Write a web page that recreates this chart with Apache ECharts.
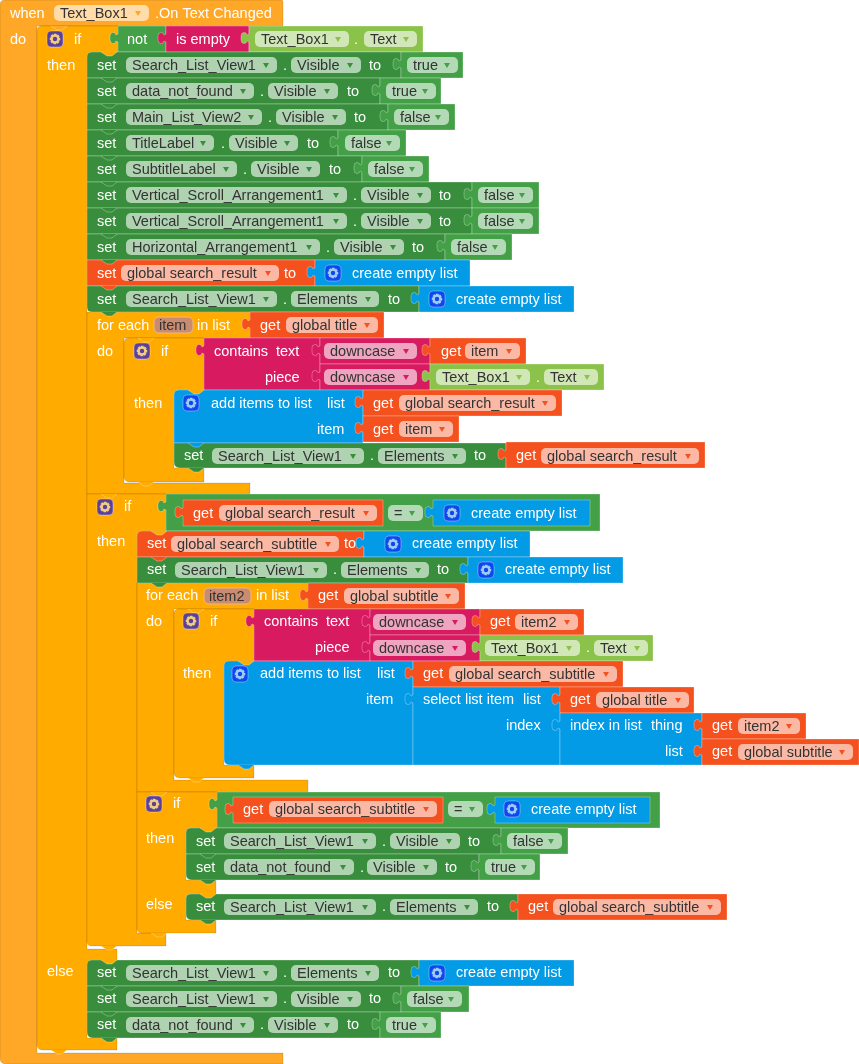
<!DOCTYPE html>
<html><head><meta charset="utf-8">
<style>html,body{margin:0;padding:0;background:#fff}#c{width:859px;height:1064px}</style>
<script src="https://cdn.jsdelivr.net/npm/echarts@6/dist/echarts.min.js"></script>
</head><body><div id="c"></div>
<script>
const colors={outer:'#FFA726',amber:'#FFAB00',green:'#388E3C',mid:'#43A047',light:'#8BC34A',mag:'#D81B60',red:'#F4511E',blue:'#039BE5'};
const paleColors={outer:'#FFDCA8',green:'#AFD2B1',mid:'#B4D9B6',light:'#D1E7B7',mag:'#EFA4BF',red:'#FBB9A5',lex:'#C98C70'};
const arrowColors={outer:'#FFA726',green:'#388E3C',mid:'#43A047',light:'#8BC34A',mag:'#D81B60',red:'#F4511E',lex:'#F4511E'};

// C-shaped containers: vertex lists [x,y,radius]
const containers=[
 ['outer',[[0,0,5],[283,0,2],[283,26],[37,26],[37,1053],[283,1053],[283,1064],[0,1064,6]]],
 ['amber',[[37,26,5],[118,26],[118,52],[87,52,6],[87,949],[117,949],[117,960],[87,960,6],[87,1038],[117,1038],[117,1050],[37,1050,6]]],
 ['amber',[[87,312],[250,312],[250,338],[124,338],[124,483],[250,483],[250,494],[87,494]]],
 ['amber',[[124,338,5],[204,338],[204,390],[174,390,6],[174,468],[204,468],[204,482],[124,482,6]]],
 ['amber',[[87,494],[166,494],[166,531],[137,531,6],[137,933],[166,933],[166,946],[87,946,5]]],
 ['amber',[[137,583],[308,583],[308,609],[174,609],[174,780],[308,780],[308,792],[137,792]]],
 ['amber',[[174,609,5],[254,609],[254,661],[224,661,6],[224,765],[254,765],[254,778],[174,778,6]]],
 ['amber',[[137,792],[217,792],[217,828],[186,828,6],[186,880],[216,880],[216,894],[186,894,6],[186,920],[216,920],[216,933],[137,933,5]]]
];
// blocks: x0,y0,x1,y1,colour,valueTab,topLeftRadius,bottomLeftRadius
const blocks=[
 [118,26,166,52,'mid',1,0,0],[166,26,249,52,'mag',1,0,0],[249,26,423,52,'light',1,0,0],
 [87,52,401,78,'green',0,5,0],[401,52,463,78,'mid',1,0,0],
 [87,78,380,104,'green',0,0,0],[380,78,441,104,'mid',1,0,0],
 [87,104,388,130,'green',0,0,0],[388,104,455,130,'mid',1,0,0],
 [87,130,338,156,'green',0,0,0],[338,130,406,156,'mid',1,0,0],
 [87,156,362,182,'green',0,0,0],[362,156,429,182,'mid',1,0,0],
 [87,182,472,208,'green',0,0,0],[472,182,539,208,'mid',1,0,0],
 [87,208,472,234,'green',0,0,0],[472,208,539,234,'mid',1,0,0],
 [87,234,445,260,'green',0,0,0],[445,234,512,260,'mid',1,0,0],
 [87,260,315,286,'red',0,0,0],[315,260,470,286,'blue',1,0,0],
 [87,286,419,312,'green',0,0,5],[419,286,574,312,'blue',1,0,0],
 [250,312,384,338,'red',1,0,0],
 [204,338,320,390,'mag',1,0,0],[320,338,430,364,'mag',1,0,0],[430,338,526,364,'red',1,0,0],
 [320,364,430,390,'mag',1,0,0],[430,364,604,390,'light',1,0,0],
 [174,390,363,443,'blue',0,5,0],[363,390,562,416,'red',1,0,0],[363,416,459,442,'red',1,0,0],
 [174,443,506,468,'green',0,0,6],[506,442,705,468,'red',1,0,0],
 [166,494,600,531,'mid',1,0,0],[183,500,383,526,'red',1,0,0],[433,500,590,526,'blue',1,0,0],
 [137,531,364,557,'red',0,5,0],[364,531,530,557,'blue',1,0,0],
 [137,557,468,583,'green',0,0,0],[468,557,623,583,'blue',1,0,0],
 [308,583,465,609,'red',1,0,0],
 [254,609,370,661,'mag',1,0,0],[370,609,480,635,'mag',1,0,0],[480,609,584,635,'red',1,0,0],
 [370,635,480,661,'mag',1,0,0],[480,635,653,661,'light',1,0,0],
 [224,661,413,765,'blue',0,5,6],[413,661,623,687,'red',1,0,0],
 [413,687,560,765,'blue',1,0,0],[560,687,694,713,'red',1,0,0],
 [560,713,702,765,'blue',1,0,0],[702,713,806,739,'red',1,0,0],[702,739,859,765,'red',1,0,0],
 [217,792,660,828,'mid',1,0,0],[233,797,443,823,'red',1,0,0],[495,797,650,823,'blue',1,0,0],
 [186,828,501,854,'green',0,5,0],[501,828,568,854,'mid',1,0,0],
 [186,854,479,880,'green',0,0,6],[479,854,540,880,'mid',1,0,0],
 [186,894,518,920,'green',0,5,6],[518,894,727,920,'red',1,0,0],
 [87,960,419,986,'green',0,5,0],[419,960,574,986,'blue',1,0,0],
 [87,986,401,1012,'green',0,0,0],[401,986,469,1012,'mid',1,0,0],
 [87,1012,380,1038,'green',0,0,6],[380,1012,441,1038,'mid',1,0,0]
];
// statement connector tabs: x,y,colour
const connectors=[
 [37,26,'outer'],[87,52,'amber'],[87,78,'green'],[87,104,'green'],[87,130,'green'],[87,156,'green'],[87,182,'green'],[87,208,'green'],[87,234,'green'],[87,260,'green'],[87,286,'red'],[87,312,'green'],
 [124,338,'amber'],[174,390,'amber'],[174,443,'blue'],[174,468,'green'],[124,482,'amber'],[87,494,'amber'],
 [137,531,'amber'],[137,557,'red'],[137,583,'green'],[174,609,'amber'],[224,661,'amber'],[224,765,'blue'],[174,778,'amber'],[137,792,'amber'],
 [186,828,'amber'],[186,854,'green'],[186,880,'green'],[186,894,'amber'],[186,920,'green'],[137,933,'amber'],[87,946,'amber'],
 [87,960,'amber'],[87,986,'green'],[87,1012,'green'],[87,1038,'green'],[37,1050,'amber']
];
// dropdown fields: x0,x1,centre y,text,colour,hasArrow
const fields=[
 [54,149,13,'Text_Box1','outer',1],[255,349,39,'Text_Box1','light',1],[364,417,39,'Text','light',1],
 [126,277,65,'Search_List_View1','green',1],[291,361,65,'Visible','green',1],[407,458,65,'true','mid',1],
 [126,254,91,'data_not_found','green',1],[268,338,91,'Visible','green',1],[386,436,91,'true','mid',1],
 [126,262,117,'Main_List_View2','green',1],[276,346,117,'Visible','green',1],[394,449,117,'false','mid',1],
 [126,214,143,'TitleLabel','green',1],[229,298,143,'Visible','green',1],[345,400,143,'false','mid',1],
 [126,237,169,'SubtitleLabel','green',1],[251,320,169,'Visible','green',1],[368,423,169,'false','mid',1],
 [126,347,195,'Vertical_Scroll_Arrangement1','green',1],[361,431,195,'Visible','green',1],[478,533,195,'false','mid',1],
 [126,347,221,'Vertical_Scroll_Arrangement1','green',1],[361,431,221,'Visible','green',1],[478,533,221,'false','mid',1],
 [126,320,247,'Horizontal_Arrangement1','green',1],[334,404,247,'Visible','green',1],[451,506,247,'false','mid',1],
 [121,279,273,'global search_result','red',1],
 [126,277,299,'Search_List_View1','green',1],[291,379,299,'Elements','green',1],
 [154,193,325,'item','lex',0],[286,378,325,'global title','red',1],
 [324,417,351,'downcase','mag',1],[465,520,351,'item','red',1],
 [324,417,377,'downcase','mag',1],[436,530,377,'Text_Box1','light',1],[544,598,377,'Text','light',1],
 [399,556,403,'global search_result','red',1],[399,453,429,'item','red',1],
 [212,364,456,'Search_List_View1','green',1],[378,466,456,'Elements','green',1],[541,699,456,'global search_result','red',1],
 [219,377,513,'global search_result','red',1],[388,423,513,'=','mid',1],
 [171,339,544,'global search_subtitle','red',1],
 [175,327,570,'Search_List_View1','green',1],[341,429,570,'Elements','green',1],
 [204,251,596,'item2','lex',0],[344,459,596,'global subtitle','red',1],
 [373,466,622,'downcase','mag',1],[515,578,622,'item2','red',1],
 [373,466,648,'downcase','mag',1],[485,580,648,'Text_Box1','light',1],[594,648,648,'Text','light',1],
 [449,617,674,'global search_subtitle','red',1],[596,689,700,'global title','red',1],
 [738,800,726,'item2','red',1],[738,853,752,'global subtitle','red',1],
 [269,437,809,'global search_subtitle','red',1],[448,483,809,'=','mid',1],
 [224,376,841,'Search_List_View1','green',1],[390,460,841,'Visible','green',1],[507,562,841,'false','mid',1],
 [224,354,867,'data_not_found','green',1],[367,437,867,'Visible','green',1],[485,535,867,'true','mid',1],
 [224,376,907,'Search_List_View1','green',1],[390,478,907,'Elements','green',1],[553,721,907,'global search_subtitle','red',1],
 [126,277,973,'Search_List_View1','green',1],[291,379,973,'Elements','green',1],
 [126,277,999,'Search_List_View1','green',1],[291,361,999,'Visible','green',1],[407,462,999,'false','mid',1],
 [126,254,1025,'data_not_found','green',1],[268,338,1025,'Visible','green',1],[386,436,1025,'true','mid',1]
];
// white labels: x,centre y,text
const labels=[
 [10,13,'when'],[155,13,'.On Text Changed'],[10,39,'do'],[74,39,'if'],[127,39,'not'],[176,39,'is empty'],[354,39,'.'],[47,65,'then'],
 [97,65,'set'],[283,65,'.'],[369,65,'to'],[97,91,'set'],[260,91,'.'],[347,91,'to'],[97,117,'set'],[268,117,'.'],[354,117,'to'],
 [97,143,'set'],[221,143,'.'],[307,143,'to'],[97,169,'set'],[243,169,'.'],[329,169,'to'],[97,195,'set'],[353,195,'.'],[439,195,'to'],
 [97,221,'set'],[353,221,'.'],[439,221,'to'],[97,247,'set'],[326,247,'.'],[412,247,'to'],
 [97,273,'set'],[284,273,'to'],[352,273,'create empty list'],[97,299,'set'],[283,299,'.'],[388,299,'to'],[456,299,'create empty list'],
 [97,325,'for each'],[197,325,'in list'],[260,325,'get'],[97,351,'do'],[161,351,'if'],[214,351,'contains'],[276,351,'text'],[441,351,'get'],
 [265,377,'piece'],[536,377,'.'],[134,403,'then'],[211,403,'add items to list'],[327,403,'list'],[373,403,'get'],[317,429,'item'],[373,429,'get'],
 [184,455,'set'],[370,455,'.'],[474,455,'to'],[516,455,'get'],[124,506,'if'],[193,513,'get'],[471,513,'create empty list'],
 [97,541,'then'],[147,543,'set'],[344,543,'to'],[412,543,'create empty list'],[147,569,'set'],[333,569,'.'],[437,569,'to'],[505,569,'create empty list'],
 [146,595,'for each'],[256,595,'in list'],[318,595,'get'],[146,621,'do'],[210,621,'if'],[264,621,'contains'],[326,621,'text'],[490,621,'get'],
 [315,647,'piece'],[586,647,'.'],[183,673,'then'],[260,673,'add items to list'],[377,673,'list'],[423,673,'get'],
 [366,699,'item'],[423,699,'select list item'],[523,699,'list'],[570,699,'get'],[506,725,'index'],[570,725,'index in list'],[651,725,'thing'],[712,725,'get'],
 [665,751,'list'],[712,751,'get'],[173,803,'if'],[243,809,'get'],[531,809,'create empty list'],[146,838,'then'],
 [196,841,'set'],[382,841,'.'],[468,841,'to'],[196,867,'set'],[360,867,'.'],[445,867,'to'],[146,904,'else'],
 [196,906,'set'],[382,906,'.'],[487,906,'to'],[528,906,'get'],[47,971,'else'],[97,972,'set'],[283,972,'.'],[388,972,'to'],[456,972,'create empty list'],
 [97,998,'set'],[283,998,'.'],[369,998,'to'],[97,1024,'set'],[260,1024,'.'],[347,1024,'to']
];
// mutator and list gear badges: centre x,centre y,kind
const gears=[
 [55,39,'if'],[142,351,'if'],[105,507,'if'],[191,621,'if'],[154,804,'if'],
 [333,273,'list'],[437,299,'list'],[191,403,'list'],[452,513,'list'],[393,544,'list'],[486,570,'list'],[240,674,'list'],[512,809,'list'],[437,973,'list']
];

const FONT='14.5px "Liberation Sans", Arial, sans-serif';

function roundPoly(pts){
  const out=[],n=pts.length;
  pts.forEach((p,i)=>{
    const r=p[2]||0;
    if(!r){out.push([p[0],p[1]]);return;}
    const a=pts[(i+n-1)%n],b=pts[(i+1)%n];
    const la=Math.hypot(a[0]-p[0],a[1]-p[1]),lb=Math.hypot(b[0]-p[0],b[1]-p[1]);
    const s=[p[0]+(a[0]-p[0])*r/la,p[1]+(a[1]-p[1])*r/la],e=[p[0]+(b[0]-p[0])*r/lb,p[1]+(b[1]-p[1])*r/lb];
    for(let k=0;k<=5;k++){const t=k/5,u=1-t;out.push([u*u*s[0]+2*u*t*p[0]+t*t*e[0],u*u*s[1]+2*u*t*p[1]+t*t*e[1]]);}
  });
  return out;
}
const base={coordinateSystem:'cartesian2d',type:'custom',silent:true,animation:false,clip:false};
function idx(arr){return arr.map((_,i)=>[i,i]);}

const containerSeries=Object.assign({},base,{data:idx(containers),renderItem(params,api){
  const c=containers[params.dataIndex];
  return {type:'polygon',shape:{points:roundPoly(c[1]).map(p=>api.coord(p))},style:{fill:colors[c[0]],stroke:'rgba(0,0,0,0.12)',lineWidth:1}};
}});
const blockSeries=Object.assign({},base,{data:idx(blocks),renderItem(params,api){
  const [x0,y0,x1,y1,col,tab,tl,bl]=blocks[params.dataIndex];
  const pts=[[x0,y0,tl],[x1,y0],[x1,y1],[x0,y1,bl]];
  if(tab){
    pts.push([x0,y0+16],[x0-2,y0+15],[x0-3,y0+17],[x0-6,y0+18,2],[x0-8,y0+15,2],[x0-8,y0+9,2],[x0-6,y0+6,2],[x0-3,y0+7],[x0-2,y0+9],[x0,y0+8]);
  }
  return {type:'polygon',shape:{points:roundPoly(pts).map(p=>api.coord(p))},style:{fill:colors[col],stroke:'rgba(255,255,255,0.28)',lineWidth:1}};
}});
const connectorSeries=Object.assign({},base,{data:idx(connectors),renderItem(params,api){
  const [x,y,col]=connectors[params.dataIndex];
  const v=[[x+14,y],[x+20,y+4],[x+25,y+4],[x+30,y]].map(p=>api.coord(p));
  return {type:'group',children:[
    {type:'polygon',shape:{points:v},style:{fill:colors[col]}},
    {type:'polyline',shape:{points:v},style:{fill:null,stroke:'rgba(255,255,255,0.3)',lineWidth:1}}
  ]};
}});
const fieldSeries=Object.assign({},base,{data:idx(fields),renderItem(params,api){
  const [x0,x1,yc,t,col,arrow]=fields[params.dataIndex];
  const a=api.coord([x0,yc-8]),b=api.coord([x1,yc+8]);
  const style={fill:paleColors[col]};
  if(col==='lex'){style.stroke='#F2B880';style.lineWidth=1;}
  const kids=[{type:'rect',shape:{x:a[0],y:a[1],width:b[0]-a[0],height:b[1]-a[1],r:5},style},
    {type:'text',style:{text:t,x:a[0]+(arrow?6:5),y:(a[1]+b[1])/2+0.7,font:FONT,fill:'#333',verticalAlign:'middle',align:'left'}}];
  if(arrow){const m=api.coord([x1-11,yc-2]);
    kids.push({type:'polygon',shape:{points:[[m[0]-3,m[1]],[m[0]+3,m[1]],[m[0],m[1]+5]]},style:{fill:arrowColors[col]}});}
  return {type:'group',children:kids};
}});
const labelSeries=Object.assign({},base,{data:idx(labels),renderItem(params,api){
  const [x,y,t]=labels[params.dataIndex];const p=api.coord([x,y]);
  return {type:'text',style:{text:t,x:p[0],y:p[1]+0.7,font:FONT,fill:'#fff',verticalAlign:'middle',align:'left'}};
}});
const gearSeries=Object.assign({},base,{data:idx(gears),renderItem(params,api){
  const [x,y,k]=gears[params.dataIndex];const p=api.coord([x,y]);
  const bg=k==='if'?'#5C3F99':'#0D47F0',fg=k==='if'?'#F0D080':'#9FCDF5';
  const pts=[];for(let i=0;i<8;i++){const a=i*Math.PI/4;pts.push([p[0]+5.4*Math.cos(a-.25),p[1]+5.4*Math.sin(a-.25)],[p[0]+5.4*Math.cos(a+.25),p[1]+5.4*Math.sin(a+.25)],[p[0]+4*Math.cos(a+.55),p[1]+4*Math.sin(a+.55)]);}
  return {type:'group',children:[
    {type:'rect',shape:{x:p[0]-8,y:p[1]-8,width:16,height:16,r:4},style:{fill:bg,stroke:'rgba(255,255,255,0.35)',lineWidth:1}},
    {type:'polygon',shape:{points:pts},style:{fill:fg}},
    {type:'circle',shape:{cx:p[0],cy:p[1],r:2.2},style:{fill:bg}}
  ]};
}});
const chart=echarts.init(document.getElementById('c'),null,{renderer:'canvas'});
chart.setOption({animation:false,backgroundColor:'#fff',tooltip:{show:false},
 grid:{left:0,right:0,top:0,bottom:0},
 xAxis:{type:'value',min:0,max:859,show:false},
 yAxis:{type:'value',min:0,max:1064,inverse:true,show:false},
 series:[containerSeries,blockSeries,connectorSeries,fieldSeries,labelSeries,gearSeries]});
</script></body></html>
